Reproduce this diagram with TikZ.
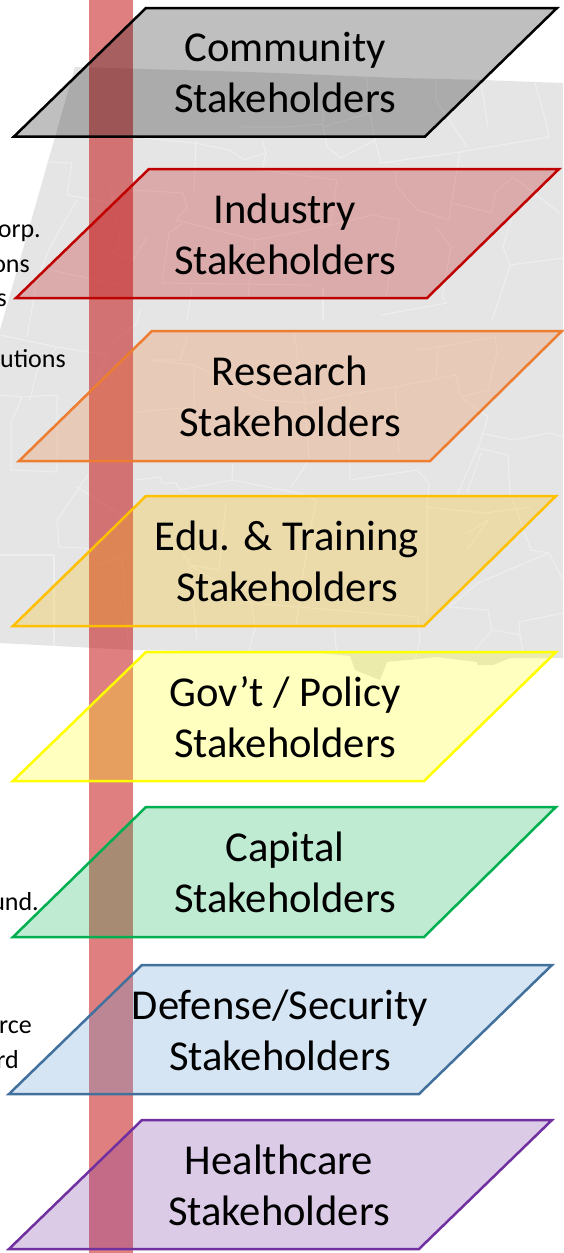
\documentclass[tikz,border=0pt]{standalone}
\usepackage{fontspec}
\setmainfont{Carlito}
\definecolor{mapgray}{RGB}{229,229,229}
\definecolor{mapline}{RGB}{238,238,238}
\definecolor{barred}{RGB}{192,0,0}
\definecolor{cComm}{RGB}{0,0,0}
\definecolor{cInd}{RGB}{192,0,0}
\definecolor{cRes}{RGB}{237,125,49}
\definecolor{cEdu}{RGB}{255,192,0}
\definecolor{cGov}{RGB}{255,255,0}
\definecolor{cCap}{RGB}{0,176,80}
\definecolor{cDefFill}{RGB}{91,155,213}
\definecolor{cDef}{RGB}{65,113,156}
\definecolor{cHea}{RGB}{112,48,160}
\tikzset{
  plane/.style={line width=2.5pt,line join=miter,fill opacity=.25},
  planelabel/.style={inner sep=0pt,align=center,text=black,font=\fontsize{42.6}{51}\selectfont},
  backlabel/.style={inner sep=0pt,anchor=base east,text=black,font=\fontsize{26}{30}\selectfont},
  county/.style={draw=mapline,line width=1.1pt,line join=round}
}
\def\mapoutline{(75,67) -- (250,72) -- (400,78) -- (483,80) -- (563,83) -- (563,658) -- (510,658) -- (493,665) -- (477,665) -- (477,662) -- (437,657) -- (387,662) -- (380,680) -- (355,670) -- (350,656) -- (320,653) -- (133,650) -- (0,643) -- (0,330) -- cycle}
\begin{document}
\begin{tikzpicture}[x=1pt,y=-1pt]
\useasboundingbox (0,0) rectangle (563,1253);
\fill[white] (0,0) rectangle (563,1253);
% map
\fill[mapgray] \mapoutline;
\begin{scope}
\clip \mapoutline;
\draw[county] (47,162) -- (72,163) -- (67,195) -- (111,203) -- (133,190) -- (183,193) -- (187,208) -- (176,220) -- (255,240) -- (248,297);
\draw[county] (133,137) -- (194,143) -- (230,150) -- (244,160) -- (266,153) -- (262,170) -- (337,180) -- (330,227);
\draw[county] (262,140) -- (266,153);
\draw[county] (196,140) -- (194,192);
\draw[county] (375,140) -- (381,163) -- (460,152) -- (549,137) -- (546,122) -- (535,83);
\draw[county] (395,167) -- (397,187) -- (417,210) -- (449,220) -- (452,200) -- (460,152);
\draw[county] (452,203) -- (492,213) -- (495,193) -- (513,177) -- (560,213);
\draw[county] (255,240) -- (309,230) -- (373,215) -- (400,220) -- (386,297);
\draw[county] (436,227) -- (451,247) -- (442,297) -- (447,303) -- (381,315);
\draw[county] (513,213) -- (503,247) -- (510,265) -- (563,258);
\draw[county] (510,265) -- (499,300) -- (492,320);
\draw[county] (183,223) -- (169,233) -- (162,283) -- (312,285);
\draw[county] (147,237) -- (133,260) -- (112,253) -- (120,242) -- (110,185);
\draw[county] (50,270) -- (130,287);
\draw[county] (77,200) -- (50,247) -- (37,280) -- (27,337);
\draw[county] (0,335) -- (57,347) -- (108,355) -- (95,380);
\draw[county] (57,347) -- (37,370) -- (30,400);
\draw[county] (140,310) -- (137,323) -- (113,343);
\draw[county] (192,288) -- (187,320);
\draw[county] (323,287) -- (323,320);
\draw[county] (436,80) -- (436,100) -- (449,120) -- (467,147);
\draw[county] (481,83) -- (488,127);
\draw[county] (323,100) -- (323,127) -- (327,147) -- (341,158) -- (375,140) -- (370,113) -- (323,127);
\draw[county] (366,73) -- (370,113);
\draw[county] (241,127) -- (287,127) -- (323,124);
\draw[county] (187,337) -- (180,360) -- (149,360) -- (194,365) -- (194,407) -- (136,412);
\draw[county] (194,365) -- (262,400) -- (309,403) -- (345,395) -- (395,387) -- (456,375) -- (461,397) -- (488,417) -- (478,448) -- (508,455) -- (510,493) -- (531,550) -- (549,553) -- (563,580);
\draw[county] (294,333) -- (305,403) -- (309,460) -- (291,487);
\draw[county] (233,460) -- (232,480) -- (298,493) -- (316,500) -- (305,560) -- (296,627);
\draw[county] (136,480) -- (160,477) -- (162,483) -- (176,483) -- (180,490) -- (232,480);
\draw[county] (350,393) -- (350,480) -- (417,470) -- (429,483) -- (427,507) -- (427,613);
\draw[county] (417,347) -- (420,350) -- (495,337) -- (497,353) -- (488,390) -- (461,397);
\draw[county] (438,347) -- (436,378);
\draw[county] (395,387) -- (399,453);
\draw[county] (57,395) -- (22,397) -- (11,423) -- (11,470) -- (57,472) -- cycle;
\draw[county] (0,395) -- (22,397);
\draw[county] (88,475) -- (57,520) -- (59,547) -- (86,548) -- (122,558) -- (133,553);
\draw[county] (0,555) -- (54,555) -- (54,650);
\draw[county] (77,487) -- (133,523);
\draw[county] (97,565) -- (122,558) -- (129,655);
\draw[county] (226,503) -- (219,570) -- (190,565) -- (251,603) -- (255,627) -- (248,655);
\draw[county] (190,565) -- (183,553);
\draw[county] (190,565) -- (197,640);
\draw[county] (251,603) -- (418,617) -- (420,640) -- (415,660);
\draw[county] (467,550) -- (488,520) -- (467,533);
\draw[county] (427,507) -- (485,513) -- (531,507);
\draw[county] (549,553) -- (478,583) -- (449,607) -- (488,610) -- (492,630) -- (475,650);
\draw[county] (493,630) -- (520,635) -- (523,652);
\draw[county] (519,622) -- (563,613);
\draw[county] (519,622) -- (520,635);
\draw[county] (334,627) -- (337,655);
\draw[county] (478,448) -- (456,497);
\draw[county] (481,453) -- (467,493);
\draw[county] (481,433) -- (513,440) -- (549,433) -- (563,437);
\end{scope}
% background labels
\node[backlabel] (t1) at (41,237) {orp.};
\node[backlabel] (t2) at (30,272) {ons};
\node[backlabel] (t3) at (7,306) {s};
\node[backlabel] (t4) at (66,367) {utions};
\node[backlabel] (t5) at (39,910) {und.};
\node[backlabel] (t6) at (32,1033) {rce};
\node[backlabel] (t7) at (19,1068) {rd};
% vertical bar
\fill[barred,opacity=.5] (89,0) rectangle (133,1253);
% planes
\draw[plane,draw=cComm,fill=cComm] (146,8) -- (557,8) -- (425,136.5) -- (14,136.5) -- cycle;
\draw[plane,draw=cInd,fill=cInd] (149,169) -- (559,169) -- (427,298) -- (16,298) -- cycle;
\draw[plane,draw=cRes,fill=cRes] (152,331) -- (562,331) -- (430,461) -- (19,461) -- cycle;
\draw[plane,draw=cEdu,fill=cEdu] (146,496) -- (556,496) -- (424,626) -- (13,626) -- cycle;
\draw[plane,draw=cGov,fill=cGov] (146,652) -- (556,652) -- (424,781) -- (13,781) -- cycle;
\draw[plane,draw=cCap,fill=cCap] (146,807) -- (556,807) -- (424,937) -- (13,937) -- cycle;
\draw[plane,draw=cDef,fill=cDefFill] (142,965) -- (552,965) -- (419,1094) -- (9,1094) -- cycle;
\draw[plane,draw=cHea,fill=cHea] (142,1120) -- (552,1120) -- (419,1249) -- (9,1249) -- cycle;
% plane labels
\node[planelabel] (community) at (285,76.3) {\strut Community\\\strut Stakeholders};
\node[planelabel] (industry) at (285,238.3) {\strut Industry\\\strut Stakeholders};
\node[planelabel] (research) at (290,400.3) {\strut Research\\\strut Stakeholders};
\node[planelabel] (education) at (287,565.3) {\strut Edu. \& Training\\\strut Stakeholders};
\node[planelabel] (government) at (285,721.3) {\strut Gov't / Policy\\\strut Stakeholders};
\node[planelabel] (capital) at (285,876.3) {\strut Capital\\\strut Stakeholders};
\node[planelabel] (defense) at (280,1034.3) {\strut Defense/Security\\\strut Stakeholders};
\node[planelabel] (healthcare) at (279,1189.3) {\strut Healthcare\\\strut Stakeholders};
\end{tikzpicture}
\end{document}
